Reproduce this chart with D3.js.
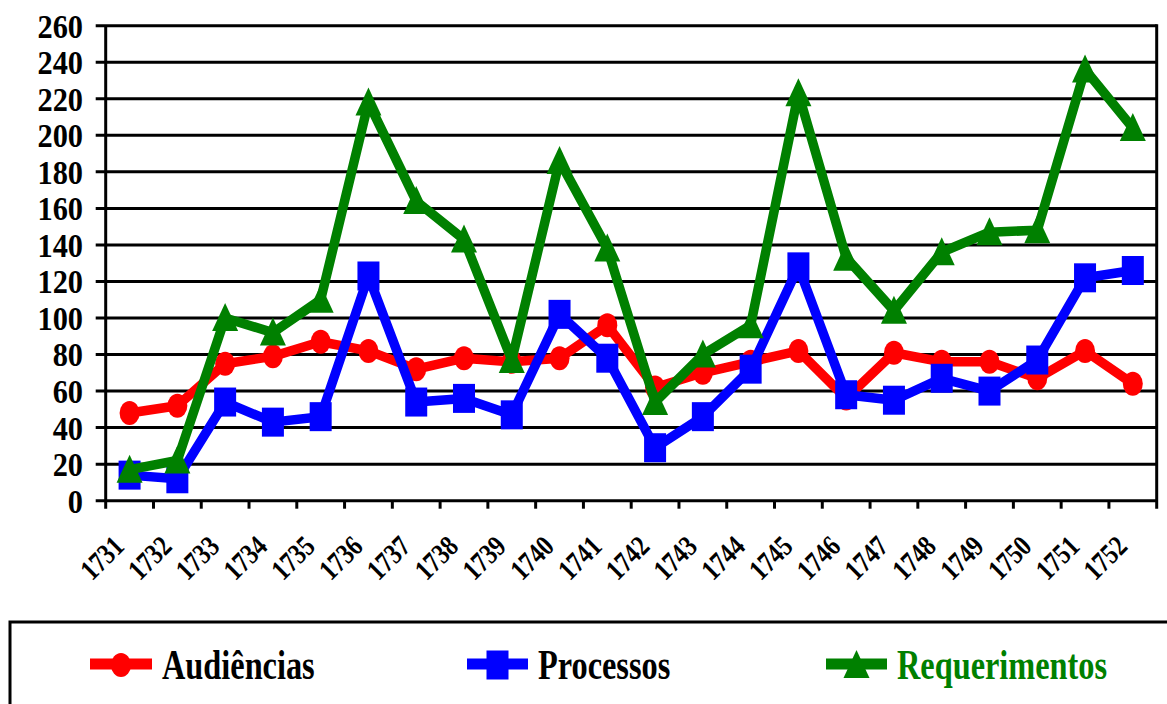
<!DOCTYPE html>
<html>
<head>
<meta charset="utf-8">
<script src="https://cdn.jsdelivr.net/npm/d3@7/dist/d3.min.js"></script>
<style>
	body { margin: 0; background: #fff; }
	svg { display: block; }
</style>
</head>
<body>
<svg id="chart" width="1167" height="704" font-family="'Liberation Serif', 'DejaVu Serif', serif" font-weight="bold"></svg>
<script>
"use strict";

var years = ["1731","1732","1733","1734","1735","1736","1737","1738","1739","1740","1741",
	"1742","1743","1744","1745","1746","1747","1748","1749","1750","1751","1752"];
var audiencias = [48,52,75,79,87,82,72,78,76,78,96,62,70,76,82,56,81,76,76,67,82,64];
var processos = [14,12,54,43,46,123,54,56,47,102,78,29,46,72,128,58,55,67,60,77,122,126];
var requerimentos = [17,22,100,92,110,218,164,143,77,186,138,54,80,96,223,133,104,136,147,148,236,204];
var yTicks = [0,20,40,60,80,100,120,140,160,180,200,220,240,260];
var seriesNames = ["Audiências","Processos","Requerimentos"];

var Chart = (function(){
	var svg, x, y,
		left = 105.7, right = 1156.7, top = 25.7, bottom = 500.7;

	function init(el) {
		svg = d3.select("#"+el);
		x = d3.scaleBand().domain(years).range([left, right]);
		y = d3.scaleLinear().domain([0, 260]).range([bottom, top]);
		drawGrid();
		drawSeries(audiencias, "#ff0000", "circle");
		drawSeries(processos, "#0000ff", "square");
		drawSeries(requerimentos, "#008000", "triangle");
		drawLegend();
	}

	function cx(d, i) {
		return x(years[i]) + x.bandwidth() / 2;
	}

	function drawGrid() {
		var g = svg.append("g");
		g.selectAll("line.grid")
			.data(yTicks)
			.enter()
			.append("line")
			.attr("x1", left - 10).attr("x2", right)
			.attr("y1", function(d) { return y(d); })
			.attr("y2", function(d) { return y(d); })
			.attr("stroke", "#000").attr("stroke-width", 3);

		// y labels kept a bit smaller than the original so they don't collide
		g.selectAll("text.ylab")
			.data(yTicks)
			.enter()
			.append("text")
			.attr("text-anchor", "end")
			.attr("dominant-baseline", "central")
			.attr("font-size", 33)
			.attr("transform", function(d) { return "translate(83," + (y(d) + 1) + ") scale(0.92,1)"; })
			.text(function(d) { return d; });

		// left axis and right border
		g.append("line").attr("x1", left).attr("x2", left).attr("y1", top).attr("y2", bottom + 8)
			.attr("stroke", "#000").attr("stroke-width", 3);
		g.append("line").attr("x1", right).attr("x2", right).attr("y1", top - 1.5).attr("y2", bottom + 8)
			.attr("stroke", "#000").attr("stroke-width", 3);

		// ticks between categories
		g.selectAll("line.tick")
			.data(years.slice(1))
			.enter()
			.append("line")
			.attr("x1", function(d) { return x(d); })
			.attr("x2", function(d) { return x(d); })
			.attr("y1", bottom).attr("y2", bottom + 8)
			.attr("stroke", "#000").attr("stroke-width", 3);

		g.selectAll("text.xlab")
			.data(years)
			.enter()
			.append("text")
			.attr("text-anchor", "end")
			.attr("font-size", 29)
			.attr("transform", function(d, i) {
				return "translate(" + (cx(d, i) - 4) + ",548) rotate(-45) scale(0.82,1)";
			})
			.text(function(d) { return d; });
	}

	function marker(sel, shape, color) {
		if (shape == "circle") {
			sel.append("ellipse").attr("rx", 10).attr("ry", 12).attr("fill", color);
		} else if (shape == "square") {
			sel.append("rect").attr("x", -11).attr("y", -14.5).attr("width", 22).attr("height", 29).attr("fill", color);
		} else {
			sel.append("path").attr("d", "M0,-15L13,13L-13,13Z").attr("fill", color);
		}
	}

	function drawSeries(values, color, shape) {
		var g = svg.append("g");
		var line = d3.line()
			.x(function(d, i) { return cx(d, i); })
			.y(function(d) { return y(d); });
		g.append("path")
			.datum(values)
			.attr("d", line)
			.attr("fill", "none")
			.attr("stroke", color)
			.attr("stroke-width", 9.5)
			.attr("stroke-linejoin", "round");
		var pts = g.selectAll("g.pt")
			.data(values)
			.enter()
			.append("g")
			.attr("transform", function(d, i) { return "translate(" + cx(d, i) + "," + y(d) + ")"; });
		marker(pts, shape, color);
	}

	function drawLegend() {
		var g = svg.append("g");
		g.append("rect").attr("x", 10).attr("y", 622).attr("width", 1200).attr("height", 120)
			.attr("fill", "none").attr("stroke", "#000").attr("stroke-width", 3);
		var items = [
			{ name: seriesNames[0], color: "#ff0000", shape: "circle", x0: 90, x1: 152, tx: 162, tc: "#000" },
			{ name: seriesNames[1], color: "#0000ff", shape: "square", x0: 467, x1: 528, tx: 538, tc: "#000" },
			{ name: seriesNames[2], color: "#008000", shape: "triangle", x0: 826, x1: 887, tx: 897, tc: "#008000" }
		];
		var it = g.selectAll("g.item").data(items).enter().append("g");
		it.append("line")
			.attr("x1", function(d) { return d.x0; })
			.attr("x2", function(d) { return d.x1; })
			.attr("y1", 664).attr("y2", 664)
			.attr("stroke", function(d) { return d.color; })
			.attr("stroke-width", 11);
		it.each(function(d) {
			var m = d3.select(this).append("g")
				.attr("transform", "translate(" + ((d.x0 + d.x1) / 2) + ",665)");
			marker(m, d.shape, d.color);
		});
		it.append("text")
			.attr("font-size", 42)
			.attr("fill", function(d) { return d.tc; })
			.attr("transform", function(d) { return "translate(" + d.tx + ",679) scale(0.77,1)"; })
			.text(function(d) { return d.name; });
	}

	return {
		"init": init
	};
}());

Chart.init("chart");
</script>
</body>
</html>
